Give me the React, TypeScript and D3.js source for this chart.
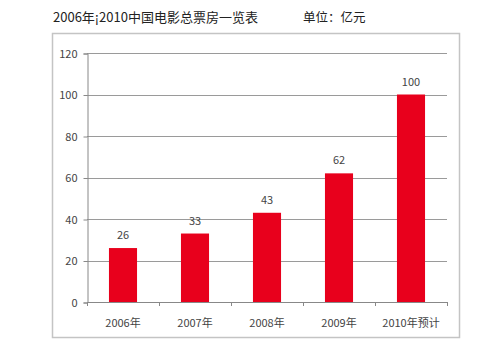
import React, { useRef, useEffect } from 'react'
import * as d3 from 'd3'

const categories = ['2006年', '2007年', '2008年', '2009年', '2010年预计']
const values = [26, 33, 43, 62, 100]
const yTicks = [0, 20, 40, 60, 80, 100, 120]
const title = '2006年¡2010中国电影总票房一览表'
const unitLabel = '单位：亿元'

export default function App() {
  const svgRef = useRef<SVGSVGElement | null>(null)

  useEffect(() => {
    if (!svgRef.current) return
    const svg = d3.select(svgRef.current)
    svg.selectAll('*').remove()

    const font = '"Noto Sans CJK SC", "Liberation Sans", sans-serif'
    const left = 87
    const right = 447
    const top = 53
    const bottom = 302

    svg.append('rect').attr('width', 500).attr('height', 354).attr('fill', '#fff')

    svg.append('text')
      .attr('x', 53).attr('y', 22)
      .attr('font-family', font).attr('font-size', 13)
      .attr('fill', '#222')
      .text(title)

    svg.append('text')
      .attr('x', 303).attr('y', 22)
      .attr('font-family', font).attr('font-size', 12.5)
      .attr('fill', '#222')
      .text(unitLabel)

    // outer frame
    svg.append('rect')
      .attr('x', 52.5).attr('y', 33.5)
      .attr('width', 407).attr('height', 304)
      .attr('fill', 'none').attr('stroke', '#c4c4c4').attr('stroke-width', 1.5)

    const x = d3.scaleBand().domain(categories).range([left, right]).paddingInner(0.61).paddingOuter(0.305)
    const y = d3.scaleLinear().domain([0, 120]).range([bottom, top])

    // gridlines
    svg.append('g').selectAll('line')
      .data(yTicks.filter(t => t > 0))
      .join('line')
      .attr('x1', left).attr('x2', right)
      .attr('y1', d => Math.round(y(d)) + 0.5).attr('y2', d => Math.round(y(d)) + 0.5)
      .attr('stroke', '#9a9a9a').attr('stroke-width', 1)

    // y axis
    const yAxis = svg.append('g')
      .attr('transform', `translate(${left + 0.5},0.5)`)
      .call(d3.axisLeft(y).tickValues(yTicks).tickSize(4).tickPadding(6))
    yAxis.select('.domain').attr('stroke', '#888')
    yAxis.selectAll('.tick line').attr('stroke', '#888')
    yAxis.selectAll('text')
      .attr('font-family', font).attr('font-size', 11).attr('fill', '#444')

    // bars
    svg.append('g').selectAll('rect')
      .data(values)
      .join('rect')
      .attr('x', (_, i) => x(categories[i]) as number)
      .attr('y', d => y(d))
      .attr('width', x.bandwidth())
      .attr('height', d => bottom - y(d))
      .attr('fill', '#e8001c')

    svg.append('g').selectAll('text')
      .data(values)
      .join('text')
      .attr('x', (_, i) => (x(categories[i]) as number) + x.bandwidth() / 2)
      .attr('y', d => y(d) - 9)
      .attr('text-anchor', 'middle')
      .attr('font-family', font).attr('font-size', 11)
      .attr('fill', '#444')
      .text(d => d)

    // x axis
    const step = x.step()
    const xg = svg.append('g')
    xg.append('line')
      .attr('x1', left).attr('x2', right)
      .attr('y1', bottom + 0.5).attr('y2', bottom + 0.5)
      .attr('stroke', '#888')
    xg.selectAll('line.tk')
      .data(d3.range(categories.length + 1))
      .join('line')
      .attr('class', 'tk')
      .attr('x1', i => Math.round(left + i * step) + 0.5)
      .attr('x2', i => Math.round(left + i * step) + 0.5)
      .attr('y1', bottom).attr('y2', bottom + 4)
      .attr('stroke', '#888')
    xg.selectAll('text')
      .data(categories)
      .join('text')
      .attr('x', d => (x(d) as number) + x.bandwidth() / 2)
      .attr('y', bottom + 25)
      .attr('text-anchor', 'middle')
      .attr('font-family', font).attr('font-size', 11)
      .attr('fill', '#444')
      .text(d => d)
  }, [])

  return (
    <svg ref={svgRef} width={500} height={354} style={{ position: 'absolute', left: 0, top: 0 }} />
  )
}
